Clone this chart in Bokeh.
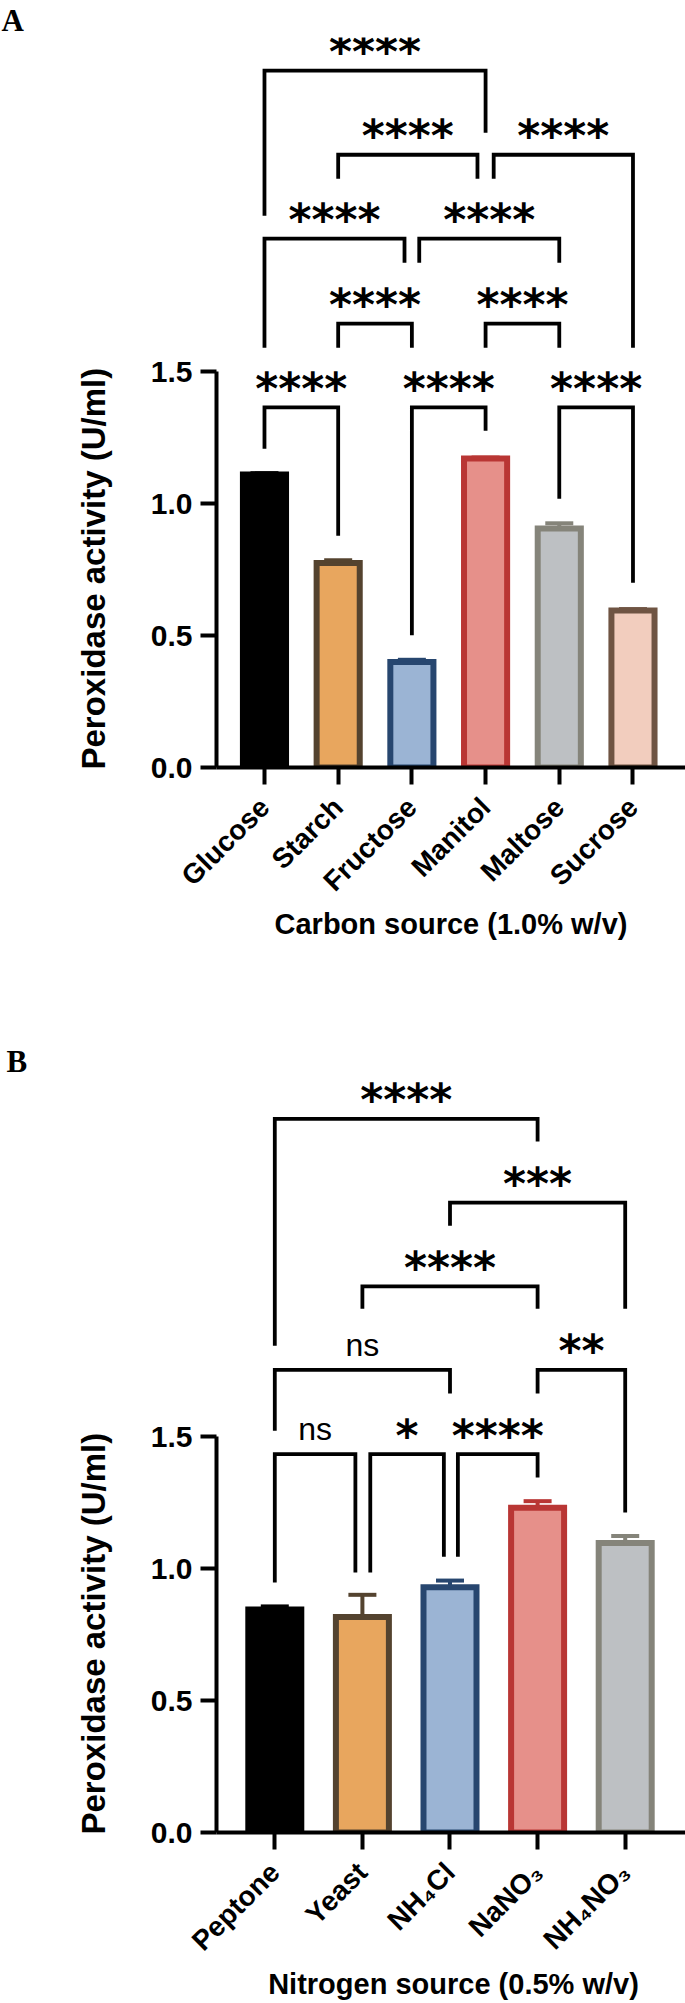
import math
from bokeh.plotting import figure
from bokeh.models import Range1d, FixedTicker, ColumnDataSource, NumeralTickFormatter, Title
from bokeh.layouts import column
from bokeh.embed import file_html
from bokeh.resources import INLINE
from bokeh.core.properties import value

# ---------------- Panel A data ----------------
carbon_sources = ["Glucose", "Starch", "Fructose", "Manitol", "Maltose", "Sucrose"]
carbon_activity = [1.11, 0.775, 0.40, 1.17, 0.905, 0.595]
carbon_sd = [0.005, 0.010, 0.008, 0.004, 0.020, 0.005]
carbon_fill = ["#000000", "#E8A65E", "#9BB4D4", "#E6908A", "#BDC0C3", "#F2CDBE"]
carbon_line = ["#000000", "#54432F", "#27466F", "#B93634", "#85847A", "#6F5443"]

# comparison brackets: category index of each leg, small leg shift, bracket height, leg ends, label
carbon_br_i0 = [0, 1, 3, 0, 2, 1, 3, 0, 2, 4]
carbon_br_i1 = [3, 3, 5, 2, 4, 2, 4, 1, 3, 5]
carbon_br_s0 = [0, 0, 0.11, 0, 0.10, 0, 0, 0, 0, 0]
carbon_br_s1 = [0, -0.11, 0, -0.10, 0, 0, 0, 0, 0, 0]
carbon_br_top = [2.640, 2.321, 2.321, 2.003, 2.003, 1.681, 1.681, 1.364, 1.364, 1.364]
carbon_br_end0 = [2.090, 2.230, 2.230, 1.590, 1.912, 1.590, 1.590, 1.207, 0.501, 1.018]
carbon_br_end1 = [2.404, 2.230, 1.590, 1.912, 1.912, 1.590, 1.590, 0.878, 1.276, 0.700]
carbon_br_text = ["****"] * 10

# ---------------- Panel B data ----------------
nitrogen_sources = ["Peptone", "Yeast", "NH\u2084Cl", "NaNO\u2083", "NH\u2084NO\u2083"]
nitrogen_activity = [0.845, 0.817, 0.930, 1.231, 1.097]
nitrogen_sd = [0.012, 0.084, 0.025, 0.025, 0.027]
nitrogen_fill = ["#000000", "#E8A65E", "#9BB4D4", "#E6908A", "#BDC0C3"]
nitrogen_line = ["#000000", "#54432F", "#27466F", "#B93634", "#85847A"]

nitrogen_br_i0 = [0, 2, 1, 0, 3, 0, 1, 2]
nitrogen_br_i1 = [3, 4, 3, 2, 4, 1, 2, 3]
nitrogen_br_s0 = [0, 0, 0, 0, 0, 0, 0.09, 0.09]
nitrogen_br_s1 = [0, 0, 0, 0, 0, -0.08, -0.07, 0]
nitrogen_br_top = [2.705, 2.388, 2.070, 1.754, 1.754, 1.434, 1.434, 1.434]
nitrogen_br_end0 = [1.845, 2.300, 1.985, 1.523, 1.664, 0.948, 0.986, 1.045]
nitrogen_br_end1 = [2.619, 1.985, 1.985, 1.664, 1.213, 0.986, 1.045, 1.346]
nitrogen_br_text = ["****", "***", "****", "ns", "**", "ns", "*", "****"]

y_ticks = [0, 0.5, 1.0, 1.5]
y_title = "Peroxidase activity (U/ml)"

SANS = "Liberation Sans"
STAR_FONT = "DejaVu Sans"
W = 685


def make_panel(letter, cats, vals, sds, fills, lines, br, xtitle,
               top_border, frame_h, bottom_border, left_border, x_start, x_step_px,
               px_per_unit, bar_w, xlabel_standoff):
    i0, i1, s0, s1, top, e0, e1, txt = br
    n = len(cats)
    frame_w = W - left_border
    x_end = x_start + frame_w / x_step_px
    y_end = frame_h / px_per_unit
    p = figure(frame_width=frame_w, frame_height=frame_h, title=None,
               output_backend="svg", toolbar_location=None, tools="",
               x_range=Range1d(x_start, x_end), y_range=Range1d(0, y_end),
               min_border_left=left_border, min_border_right=0, min_border_top=top_border,
               min_border_bottom=bottom_border)
    p.outline_line_color = None
    p.grid.visible = False
    p.background_fill_color = "white"
    p.border_fill_color = "white"

    xs = list(range(n))
    src = ColumnDataSource(dict(x=xs, top=vals, fill=fills, line=lines,
                                up=[v + s for v, s in zip(vals, sds)]))
    p.vbar(x="x", top="top", bottom=0, width=bar_w, source=src,
           fill_color="fill", line_color="line", line_width=6, line_join="miter")
    # error bars (mean + SD)
    cap = 14.0 / x_step_px
    p.segment(x0="x", y0="top", x1="x", y1="up", source=src, line_color="line", line_width=4)
    esrc = ColumnDataSource(dict(x0=[x - cap for x in xs], x1=[x + cap for x in xs],
                                 y=src.data["up"], line=lines))
    p.segment(x0="x0", y0="y", x1="x1", y1="y", source=esrc, line_color="line", line_width=4)

    # significance brackets
    bx, by, lx, ly, lab = [], [], [], [], []
    for a, b, da, db, t, ea, eb, s in zip(i0, i1, s0, s1, top, e0, e1, txt):
        xa, xb = a + da, b + db
        bx.append([xa, xa, xb, xb])
        by.append([ea, t, t, eb])
        lx.append((xa + xb) / 2)
        ly.append(t)
        lab.append(s)
    p.multi_line(xs=bx, ys=by, line_color="black", line_width=3.8, line_join="miter", line_cap="butt")
    stars = [k for k, s in enumerate(lab) if s != "ns"]
    nss = [k for k, s in enumerate(lab) if s == "ns"]
    if stars:
        p.text(x=[lx[k] for k in stars], y=[ly[k] for k in stars], text=[lab[k] for k in stars],
               text_font=value(STAR_FONT), text_font_style="bold", text_font_size="44px",
               text_align="center", text_baseline="alphabetic", y_offset=-19, text_color="black")
    if nss:
        p.text(x=[lx[k] for k in nss], y=[ly[k] for k in nss], text=[lab[k] for k in nss],
               text_font=value(SANS), text_font_style="normal", text_font_size="32px",
               text_align="center", text_baseline="alphabetic", y_offset=-25, text_color="black")

    # x axis
    xa_ = p.xaxis[0]
    xa_.ticker = FixedTicker(ticks=xs)
    xa_.major_label_overrides = {i: c for i, c in enumerate(cats)}
    xa_.major_label_orientation = math.pi / 4
    xa_.major_label_text_font = SANS
    xa_.major_label_text_font_style = "bold"
    xa_.major_label_text_font_size = "28px"
    xa_.major_label_text_color = "black"
    xa_.major_label_standoff = 18
    xa_.axis_line_width = 4
    xa_.major_tick_line_width = 4
    xa_.major_tick_out = 17
    xa_.major_tick_in = 0
    xa_.minor_tick_line_color = None
    xa_.axis_line_color = "black"
    xa_.major_tick_line_color = "black"
    xa_.axis_label = xtitle
    xa_.axis_label_text_font = SANS
    xa_.axis_label_text_font_style = "bold"
    xa_.axis_label_text_font_size = "29px"
    xa_.axis_label_text_color = "black"
    xa_.axis_label_standoff = xlabel_standoff

    # y axis
    ya = p.yaxis[0]
    ya.ticker = FixedTicker(ticks=y_ticks)
    ya.formatter = NumeralTickFormatter(format="0.0")
    ya.bounds = (0, 1.5)
    ya.major_label_text_font = SANS
    ya.major_label_text_font_style = "bold"
    ya.major_label_text_font_size = "30px"
    ya.major_label_text_color = "black"
    ya.major_label_standoff = 8
    ya.axis_line_width = 4
    ya.major_tick_line_width = 4
    ya.major_tick_out = 16
    ya.major_tick_in = 0
    ya.minor_tick_line_color = None
    ya.axis_line_color = "black"
    ya.major_tick_line_color = "black"

    # y-axis title, placed along the 0-1.5 part of the axis
    p.add_layout(Title(text=y_title, align="left", offset=-2, standoff=71,
                       text_font=SANS, text_font_style="bold", text_font_size="33px",
                       text_color="black"), "left")
    # panel letter at the top-left corner
    p.add_layout(Title(text=letter, align="left", offset=-left_border + 1, standoff=0,
                       text_font="Liberation Serif", text_font_style="bold", text_font_size="31px",
                       text_color="black"), "above")
    return p


pA = make_panel("A", carbon_sources, carbon_activity, carbon_sd, carbon_fill, carbon_line,
                (carbon_br_i0, carbon_br_i1, carbon_br_s0, carbon_br_s1, carbon_br_top,
                 carbon_br_end0, carbon_br_end1, carbon_br_text),
                "Carbon source (1.0% w/v)",
                top_border=37, frame_h=730, bottom_border=273, left_border=216,
                x_start=-0.651, x_step_px=73.7, px_per_unit=264.0, bar_w=0.585, xlabel_standoff=-3)

pB = make_panel("B", nitrogen_sources, nitrogen_activity, nitrogen_sd, nitrogen_fill, nitrogen_line,
                (nitrogen_br_i0, nitrogen_br_i1, nitrogen_br_s0, nitrogen_br_s1, nitrogen_br_top,
                 nitrogen_br_end0, nitrogen_br_end1, nitrogen_br_text),
                "Nitrogen source (0.5% w/v)",
                top_border=38, frame_h=754, bottom_border=166, left_border=211,
                x_start=-0.6655, x_step_px=87.6, px_per_unit=263.8, bar_w=0.605, xlabel_standoff=-3)

layout = column(pA, pB, spacing=0)
open("out.html", "w").write(file_html(layout, INLINE))
